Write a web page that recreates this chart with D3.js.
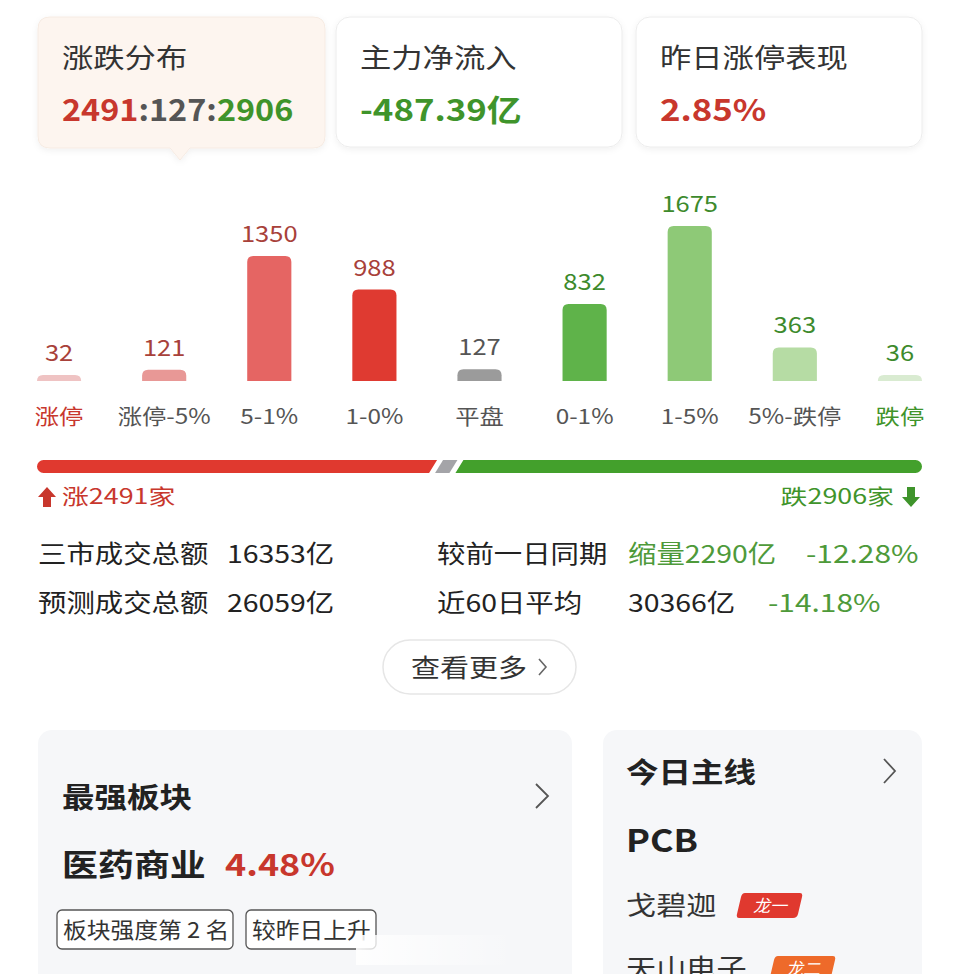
<!DOCTYPE html>
<html>
<head>
<meta charset="utf-8">
<script src="https://cdn.jsdelivr.net/npm/d3@7"></script>
<style>
  body { margin: 0; background: #fff; }
  svg { display: block; font-family: "Noto Sans CJK SC", "Noto Sans", sans-serif; }
</style>
</head>
<body>
<svg id="chart" width="960" height="974"></svg>
<script>
// summary cards
const cardTitles = ["涨跌分布", "主力净流入", "昨日涨停表现"]
const netInflow = "-487.39亿"
const limitUpPerf = "2.85%"

// distribution
const categories = ["涨停", "涨停-5%", "5-1%", "1-0%", "平盘", "0-1%", "1-5%", "5%-跌停", "跌停"]
const counts = [32, 121, 1350, 988, 127, 832, 1675, 363, 36]
const barColors = ["#efc3c3", "#e89896", "#e56563", "#df3a31", "#9b9b9b", "#5fb34a", "#8ec977", "#b6dca4", "#d9ebd1"]
const valueColors = ["#a8413a", "#a8413a", "#a8413a", "#a8413a", "#555", "#3d8a2c", "#3d8a2c", "#3d8a2c", "#3d8a2c"]

// up / flat / down split
const splitNames = ["up", "flat", "down"]
const splitCounts = [2491, 127, 2906]
const splitColors = ["#e0392f", "#a4a4a8", "#43a02c"]

// turnover rows
const statLabels = ["三市成交总额", "预测成交总额"]
const statValues = ["16353亿", "26059亿"]
const compareLabels = ["较前一日同期", "近60日平均"]
const compareValues = ["缩量2290亿", "30366亿"]
const comparePct = ["-12.28%", "-14.18%"]

const svg = d3.select("#chart")
const red = "#c8372d", green = "#3f942b", dark = "#222"
const SX = 1.16  // the screenshot text is a bit wider than it is tall

// text helper: placed with a transform so it can be stretched a little
function txt(g, x, y, s, size, fill, opt = {}) {
    return g.append("text")
        .attr("transform", `translate(${x},${y}) scale(${opt.sx || SX},1)`)
        .attr("font-size", size)
        .attr("fill", fill)
        .attr("font-weight", opt.bold ? "bold" : null)
        .attr("text-anchor", opt.anchor || null)
        .text(s)
}

const defs = svg.append("defs")
const sh = defs.append("filter").attr("id", "shadow").attr("x", "-10%").attr("y", "-10%").attr("width", "120%").attr("height", "130%")
sh.append("feDropShadow").attr("dx", 0).attr("dy", 2).attr("stdDeviation", 3).attr("flood-color", "#000").attr("flood-opacity", 0.06)

// ---- top cards
const cardX = [38, 336, 636]
const cards = svg.append("g")
cardX.forEach((x, i) => {
    const g = cards.append("g").attr("transform", `translate(${x},17)`)
    if (i === 0) {
        g.append("path")
            .attr("d", "M12,0 H275 Q287,0 287,12 V119 Q287,131 275,131 H152 L142,143 L132,131 H12 Q0,131 0,119 V12 Q0,0 12,0 Z")
            .attr("fill", "#fdf5ef").attr("stroke", "#f6ebe3").attr("filter", "url(#shadow)")
    } else {
        g.append("rect").attr("width", 286).attr("height", 130).attr("rx", 14)
            .attr("fill", "#fff").attr("stroke", "#ececec").attr("filter", "url(#shadow)")
    }
    txt(g, 24, 51, cardTitles[i], 27, "#333")
})
const v0 = txt(cards, 62, 121, "", 30, red, { bold: true, sx: 1.08 })
v0.append("tspan").attr("fill", red).text(splitCounts[0])
v0.append("tspan").attr("fill", "#555").text(":" + splitCounts[1] + ":")
v0.append("tspan").attr("fill", green).text(splitCounts[2])
txt(cards, 360, 121, netInflow, 30, green, { bold: true })
txt(cards, 660, 121, limitUpPerf, 30, red, { bold: true })

// ---- distribution bars
const x = d3.scaleBand().domain(categories).range([37, 922]).paddingInner(0.58).paddingOuter(0)
const y = d3.scaleLinear().domain([0, d3.max(counts)]).range([381, 226])
const minH = 6
const r = 6

const bars = svg.append("g")
const rows = categories.map((c, i) => ({ c, v: counts[i], i }))
const barTop = d => Math.min(y(d.v), y(0) - minH)
bars.selectAll("path.bar").data(rows).enter().append("path")
    .attr("class", "bar")
    .attr("fill", d => barColors[d.i])
    .attr("d", d => {
        const x0 = x(d.c), w = x.bandwidth(), b = y(0)
        const top = barTop(d)
        const rr = Math.min(r, b - top)
        return `M${x0},${b} V${top + rr} Q${x0},${top} ${x0 + rr},${top} H${x0 + w - rr} Q${x0 + w},${top} ${x0 + w},${top + rr} V${b} Z`
    })
bars.selectAll("text.val").data(rows).enter().append("text")
    .attr("class", "val")
    .attr("transform", d => `translate(${x(d.c) + x.bandwidth() / 2},${barTop(d) - 14}) scale(${SX},1)`)
    .attr("text-anchor", "middle").attr("font-size", 22)
    .attr("fill", d => valueColors[d.i])
    .text(d => d.v)
bars.selectAll("text.cat").data(rows).enter().append("text")
    .attr("class", "cat")
    .attr("transform", d => `translate(${x(d.c) + x.bandwidth() / 2},424) scale(${SX},1)`)
    .attr("text-anchor", "middle").attr("font-size", 21)
    .attr("fill", d => d.i === 0 ? red : d.i === categories.length - 1 ? green : "#555")
    .text(d => d.c)

// ---- split bar
const total = d3.sum(splitCounts)
const sx = d3.scaleLinear().domain([0, total]).range([37, 922])
const cum = d3.cumsum(splitCounts)
const split = svg.append("g")
const by = 460, bh = 13, slant = 4, gap = 3
splitNames.forEach((n, i) => {
    const s = i === 0 ? 0 : cum[i - 1]
    const e = cum[i]
    const x0 = sx(s) + (i === 0 ? 0 : gap), x1 = sx(e) - (i === splitNames.length - 1 ? 0 : gap)
    let d
    if (i === 0) {
        d = `M${x0 + bh / 2},${by} H${x1 + slant} L${x1 - slant},${by + bh} H${x0 + bh / 2} A${bh / 2},${bh / 2} 0 0 1 ${x0 + bh / 2},${by} Z`
    } else if (i === splitNames.length - 1) {
        d = `M${x0 + slant},${by} H${x1 - bh / 2} A${bh / 2},${bh / 2} 0 0 1 ${x1 - bh / 2},${by + bh} H${x0 - slant} Z`
    } else {
        d = `M${x0 + slant},${by} H${x1 + slant} L${x1 - slant},${by + bh} H${x0 - slant} Z`
    }
    split.append("path").attr("d", d).attr("fill", splitColors[i])
})
// arrows and totals
split.append("path").attr("d", "M47,487 L56,497 H51 V507 H43 V497 H38 Z").attr("fill", red)
txt(split, 62, 504, "涨" + splitCounts[0] + "家", 21, red, { sx: 1.28 })
split.append("path").attr("d", "M911,507 L902,497 H907 V487 H915 V497 H920 Z").attr("fill", green)
txt(split, 894, 504, "跌" + splitCounts[2] + "家", 21, green, { anchor: "end", sx: 1.28 })

// ---- turnover stats
const stats = svg.append("g")
statLabels.forEach((l, i) => {
    const yy = 563 + i * 49
    txt(stats, 38, yy, l, 24.5, dark)
    txt(stats, 227, yy, statValues[i], 24.5, dark)
    txt(stats, 437, yy, compareLabels[i], 24.5, dark)
    txt(stats, 628, yy, compareValues[i], 24.5, i === 0 ? "#4e9a3a" : dark)
    txt(stats, i === 0 ? 806 : 768, yy, comparePct[i], 24.5, "#4e9a3a", { sx: 1.22 })
})

// more button
const btn = svg.append("g")
btn.append("rect").attr("x", 383).attr("y", 640).attr("width", 193).attr("height", 54).attr("rx", 27)
    .attr("fill", "#fff").attr("stroke", "#e6e6e6").attr("stroke-width", 1.5)
txt(btn, 411, 677, "查看更多", 25, "#333")
btn.append("path").attr("d", "M539,659 L546,667 L539,675").attr("fill", "none").attr("stroke", "#666").attr("stroke-width", 1.6)

// ---- bottom cards
const bottom = svg.append("g")
bottom.append("rect").attr("x", 38).attr("y", 730).attr("width", 534).attr("height", 270).attr("rx", 14).attr("fill", "#f6f7f9")
bottom.append("rect").attr("x", 603).attr("y", 730).attr("width", 319).attr("height", 270).attr("rx", 14).attr("fill", "#f6f7f9")

txt(bottom, 62, 808, "最强板块", 28, dark, { bold: true })
bottom.append("path").attr("d", "M536,784 L548,796 L536,808").attr("fill", "none").attr("stroke", "#555").attr("stroke-width", 1.8)
txt(bottom, 62, 876, "医药商业", 31, dark, { bold: true })
txt(bottom, 225, 876, "4.48%", 31, red, { bold: true })

const tags = [{ t: "板块强度第 2 名", x: 57, w: 176 }, { t: "较昨日上升", x: 246, w: 130 }]
tags.forEach(tg => {
    bottom.append("rect").attr("x", tg.x).attr("y", 910).attr("width", tg.w).attr("height", 39).attr("rx", 5)
        .attr("fill", "#fff").attr("stroke", "#555").attr("stroke-width", 1.3)
    txt(bottom, tg.x + 6, 938, tg.t, 22, "#333", { sx: 1.08 })
})
const fade = defs.append("linearGradient").attr("id", "fade")
fade.append("stop").attr("offset", 0).attr("stop-color", "#fff").attr("stop-opacity", 0.9)
fade.append("stop").attr("offset", 1).attr("stop-color", "#fff").attr("stop-opacity", 0)
bottom.append("rect").attr("x", 356).attr("y", 935).attr("width", 160).attr("height", 30).attr("fill", "url(#fade)")

txt(bottom, 626, 783, "今日主线", 28, dark, { bold: true })
bottom.append("path").attr("d", "M884,759 L895,771 L884,783").attr("fill", "none").attr("stroke", "#555").attr("stroke-width", 1.8)
txt(bottom, 626, 852, "PCB", 31, dark, { bold: true })

const leaders = [{ n: "戈碧迦", tag: "龙一", c: "#e0392f", y: 915, tx: 737 }, { n: "天山电子", tag: "龙二", c: "#ee6a2a", y: 978, tx: 770 }]
leaders.forEach(l => {
    txt(bottom, 626, l.y, l.n, 26, "#333")
    const ty = l.y - 22
    bottom.append("path").attr("d", `M${l.tx + 8},${ty} H${l.tx + 63} Q${l.tx + 66},${ty} ${l.tx + 65},${ty + 4} L${l.tx + 61},${ty + 21} Q${l.tx + 60},${ty + 25} ${l.tx + 56},${ty + 25} H${l.tx + 2} Q${l.tx - 1},${ty + 25} ${l.tx},${ty + 21} L${l.tx + 4},${ty + 4} Q${l.tx + 5},${ty} ${l.tx + 8},${ty} Z`)
        .attr("fill", l.c)
    bottom.append("text").attr("x", l.tx + 33).attr("y", ty + 19).attr("text-anchor", "middle").attr("font-size", 17)
        .attr("font-style", "italic").attr("fill", "#fff").text(l.tag)
})
</script>
</body>
</html>
